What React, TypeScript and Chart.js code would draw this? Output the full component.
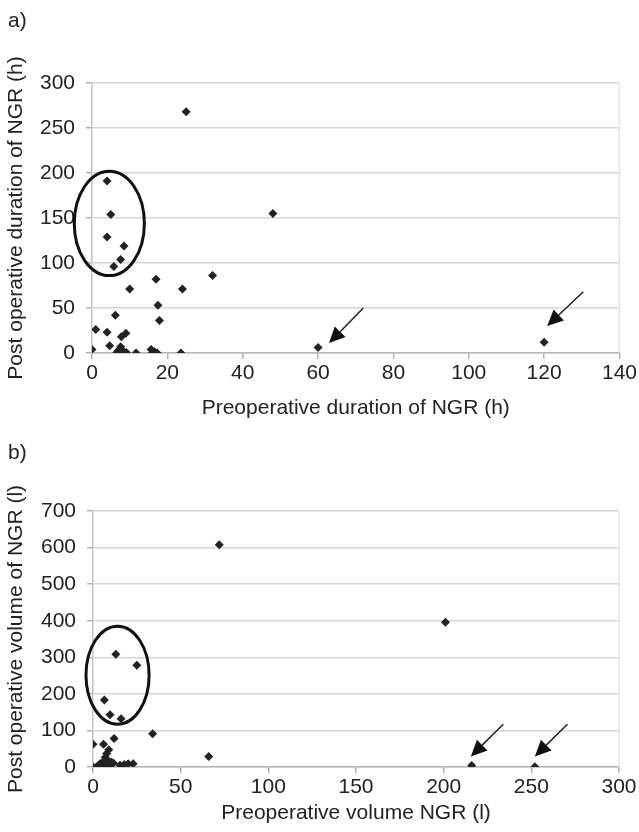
import React, { useEffect, useRef } from "react";
import { Chart, registerables } from "chart.js";

Chart.register(...registerables);

const FONT = "'Liberation Sans', Arial, Helvetica, sans-serif";
const TEXT = "#222222";
const FS = 21;

// ---- Data: panel a) duration ----
const durationPre = [25, 4, 5, 4, 8.5, 7.6, 5.8, 17, 32, 10, 24, 17.5, 6.2, 17.9, 1, 4, 9, 7.8, 0, 4.7, 7.6, 6.9, 8.2, 9.1, 6.6, 7.8, 11.7, 15.7, 16.6, 16, 17.3, 23.6, 48, 60, 120];
const durationPost = [268, 191, 154, 129, 119, 104, 96, 82, 86, 71, 71, 53, 42, 36, 26, 23, 22, 18, 4, 8, 7, 2.5, 2.5, 0.5, 0.5, 0, 0, 4, 1.5, 0, 0, 0, 155, 6, 12];

// ---- Data: panel b) volume ----
const volumePre = [72, 201, 13, 25, 6.5, 9.7, 16, 34, 12, 0, 6, 9, 7.8, 7, 66, 216, 252, 0, 2, 4, 6, 7.2, 8.7, 10.3, 11.6, 6.8, 9.1, 15.4, 17.8, 20.1, 22.9];
const volumePost = [608, 396, 308, 278, 183, 143, 132, 91, 78, 62, 62, 47, 37, 27, 29, 4, 1, 0, 0, 9, 16, 18, 16, 14, 11, 0, 0, 5, 7, 9, 9];

// axis ranges / ticks
const durationXRange = [0, 140, 20];
const durationYRange = [0, 300, 50];
const volumeXRange = [0, 300, 50];
const volumeYRange = [0, 700, 100];

// annotations (data units)
const durationEllipse = { cx: 4.6, cy: 144, rx: 9.3, ry: 58 };
const durationArrows = [
  { from: [72, 50], to: [62.9, 11] },
  { from: [130.4, 68], to: [120.8, 30] },
];
const volumeEllipse = { cx: 14, cy: 251, rx: 18, ry: 134 };
const volumeArrows = [
  { from: [234, 117], to: [215.5, 29] },
  { from: [270.6, 117], to: [252, 29] },
];

function makeAnnotations(ellipse: any, arrows: any[]) {
  return {
    id: "annotations",
    beforeDatasetsDraw(chart: any) {
      const { ctx, chartArea } = chart;
      ctx.save();
      ctx.strokeStyle = "#e4e4e4";
      ctx.lineWidth = 1.5;
      ctx.beginPath();
      ctx.moveTo(chartArea.right, chartArea.top);
      ctx.lineTo(chartArea.right, chartArea.bottom);
      ctx.stroke();
      ctx.restore();
    },
    afterDatasetsDraw(chart: any) {
      const { ctx } = chart;
      const xs = chart.scales.x;
      const ys = chart.scales.y;
      ctx.save();
      const cx = xs.getPixelForValue(ellipse.cx);
      const cy = ys.getPixelForValue(ellipse.cy);
      const rx = Math.abs(xs.getPixelForValue(ellipse.cx + ellipse.rx) - cx);
      const ry = Math.abs(ys.getPixelForValue(ellipse.cy + ellipse.ry) - cy);
      ctx.beginPath();
      ctx.ellipse(cx, cy, rx, ry, 0, 0, Math.PI * 2);
      ctx.lineWidth = 3;
      ctx.strokeStyle = "#111";
      ctx.stroke();

      arrows.forEach((a) => {
        const x1 = xs.getPixelForValue(a.from[0]);
        const y1 = ys.getPixelForValue(a.from[1]);
        const x2 = xs.getPixelForValue(a.to[0]);
        const y2 = ys.getPixelForValue(a.to[1]);
        const ang = Math.atan2(y2 - y1, x2 - x1);
        const headLen = 16;
        const headW = 7.5;
        const c = Math.cos(ang);
        const s = Math.sin(ang);
        const bx = x2 - headLen * c;
        const by = y2 - headLen * s;
        ctx.beginPath();
        ctx.moveTo(x1, y1);
        ctx.lineTo(bx, by);
        ctx.lineWidth = 1.5;
        ctx.strokeStyle = "#222";
        ctx.stroke();
        ctx.beginPath();
        ctx.moveTo(x2, y2);
        ctx.lineTo(bx + headW * s, by - headW * c);
        ctx.lineTo(bx - headW * s, by + headW * c);
        ctx.closePath();
        ctx.fillStyle = "#111";
        ctx.fill();
      });
      ctx.restore();
    },
  };
}

function buildConfig(opts: any) {
  const points = opts.xs.map((x: number, i: number) => ({ x, y: opts.ys[i] }));
  return {
    type: "scatter",
    data: {
      datasets: [
        {
          data: points,
          pointStyle: "rectRot",
          pointRadius: 4.5,
          backgroundColor: "#222",
          borderColor: "#222",
          borderWidth: 0,
        },
      ],
    },
    options: {
      responsive: false,
      animation: false,
      layout: { padding: opts.padding },
      plugins: { legend: { display: false }, tooltip: { enabled: false } },
      scales: {
        x: {
          type: "linear",
          min: opts.xRange[0],
          max: opts.xRange[1],
          ticks: {
            stepSize: opts.xRange[2],
            color: TEXT,
            font: { family: FONT, size: FS },
            padding: 2,
            maxRotation: 0,
            autoSkip: false,
          },
          grid: { drawOnChartArea: false, tickLength: 6, tickColor: "#b0b0b0", lineWidth: 1.5 },
          border: { color: "#b8b8b8", width: 1.5 },
          title: {
            display: true,
            text: opts.xTitle,
            color: TEXT,
            font: { family: FONT, size: FS },
            padding: { top: 0, bottom: opts.xTitleBottom },
          },
          afterFit: (s: any) => {
            s.height = opts.xHeight;
          },
        },
        y: {
          min: opts.yRange[0],
          max: opts.yRange[1],
          ticks: {
            stepSize: opts.yRange[2],
            color: TEXT,
            font: { family: FONT, size: FS },
            padding: 11,
          },
          grid: { color: "#d6d6d6", lineWidth: 1.5, tickLength: 6, tickColor: "#b0b0b0" },
          border: { color: "#c4c4c4", width: 1.5 },
          title: {
            display: true,
            text: opts.yTitle,
            color: TEXT,
            font: { family: FONT, size: FS },
            padding: { top: 4, bottom: 0 },
          },
          afterFit: (s: any) => {
            s.width = opts.yWidth;
          },
        },
      },
    },
    plugins: [makeAnnotations(opts.ellipse, opts.arrows)],
  };
}

function ScatterPanel(props: any) {
  const ref = useRef<HTMLCanvasElement | null>(null);
  useEffect(() => {
    if (!ref.current) return;
    const chart = new Chart(ref.current, buildConfig(props.config) as any);
    return () => chart.destroy();
  }, []);
  return (
    <canvas
      ref={ref}
      width={639}
      height={props.height}
      style={{ position: "absolute", left: 0, top: props.top, width: 639, height: props.height }}
    />
  );
}

const labelStyle: React.CSSProperties = {
  position: "absolute",
  left: 8,
  fontFamily: FONT,
  fontSize: FS,
  lineHeight: 1,
  color: TEXT,
};

export default function App() {
  const topConfig = {
    xs: durationPre,
    ys: durationPost,
    xRange: durationXRange,
    yRange: durationYRange,
    xTitle: "Preoperative duration of NGR (h)",
    yTitle: "Post operative duration of NGR (h)",
    padding: { top: 83, right: 15, left: 0, bottom: 0 },
    xHeight: 77,
    yWidth: 92,
    xTitleBottom: 9,
    ellipse: durationEllipse,
    arrows: durationArrows,
  };
  const bottomConfig = {
    xs: volumePre,
    ys: volumePost,
    xRange: volumeXRange,
    yRange: volumeYRange,
    xTitle: "Preoperative volume NGR (l)",
    yTitle: "Post operative volume of NGR (l)",
    padding: { top: 81, right: 20, left: 0, bottom: 0 },
    xHeight: 65,
    yWidth: 93,
    xTitleBottom: 6,
    ellipse: volumeEllipse,
    arrows: volumeArrows,
  };
  return (
    <div style={{ position: "absolute", left: 0, top: 0, width: 639, height: 832, background: "#fff", overflow: "hidden" }}>
      <ScatterPanel top={0} height={430} config={topConfig} />
      <ScatterPanel top={430} height={402} config={bottomConfig} />
      <div style={{ ...labelStyle, top: 9 }}>a)</div>
      <div style={{ ...labelStyle, top: 441 }}>b)</div>
    </div>
  );
}
